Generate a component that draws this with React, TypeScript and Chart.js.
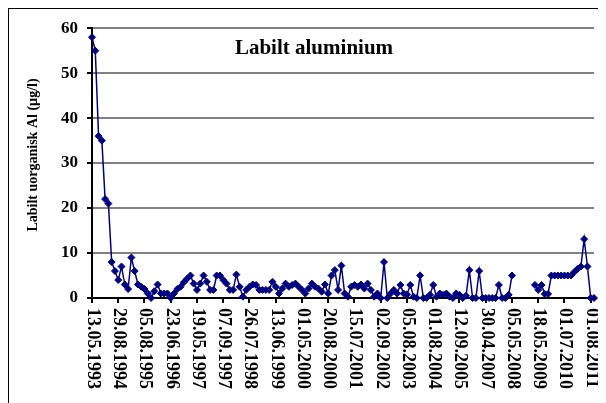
import React, { useEffect, useRef } from "react";
import { Chart, registerables } from "chart.js";

Chart.register(...registerables);

const TITLE = "Labilt aluminium";
const Y_TITLE = "Labilt uorganisk Al (µg/l)";
const LABEL_EVERY = 8;

const tickLabels: string[] = [
  "13.05.1993", "29.08.1994", "05.08.1995", "23.06.1996", "19.05.1997",
  "07.09.1997", "26.07.1998", "13.06.1999", "01.05.2000", "20.08.2000",
  "15.07.2001", "02.09.2002", "05.08.2003", "01.08.2004", "12.09.2005",
  "30.04.2007", "05.05.2008", "18.05.2009", "01.07.2010", "01.08.2011",
];

const values: (number | null)[] = [
  58, 55, 36, 35, 22, 21, 8, 6, 4, 7,
  3, 2, 9, 6, 3, 2.5, 2, 1, 0, 1.5,
  3, 1, 1, 1, 0, 1, 2, 2.5, 3.5, 4.3,
  5, 3.2, 1.8, 3.2, 5, 3.6, 1.8, 1.8, 5, 5,
  4, 3.2, 1.8, 1.8, 5.2, 2.5, 0.3, 1.8, 2.5, 3,
  2.9, 1.8, 1.8, 1.8, 1.8, 3.6, 2.5, 1, 2.1, 3.2,
  2.5, 2.9, 3.2, 2.5, 1.8, 1, 2.1, 3.2, 2.5, 2.1,
  1.4, 3, 1, 5, 6.2, 1.8, 7.2, 1, 0.3, 2.5,
  2.9, 2.5, 3, 2.1, 3.2, 1.8, 0.3, 1, 0, 8,
  0, 1, 1.8, 1, 2.9, 1, 0.8, 2.9, 0.3, 0,
  5, 0, 0, 0.7, 2.9, 0.3, 1, 0.7, 1, 0.3,
  0, 1, 0.7, 0, 0.5, 6.2, 0, 0, 6, 0,
  0, 0, 0, 0, 2.9, 0, 0, 0.7, 5, null,
  null, null, null, null, null, 2.9, 1.8, 2.9, 0.9, 0.9,
  5, 5, 5, 5, 5, 5, 5, 5.8, 6.5, 7,
  13.1, 7, 0, 0,
];

const categories: string[] = values.map((_, i) =>
  i % LABEL_EVERY === 0 && tickLabels[i / LABEL_EVERY] ? tickLabels[i / LABEL_EVERY] : ""
);

const SERIF = '"Liberation Serif", "Times New Roman", serif';
const NAVY = "#000080";

const W = 590;
const H = 394;

const textPlugin = {
  id: "excelText",
  afterDraw(chart: any) {
    const { ctx, chartArea, scales } = chart;
    ctx.save();
    ctx.fillStyle = "#000";
    ctx.font = `bold 21px ${SERIF}`;
    ctx.textAlign = "center";
    ctx.textBaseline = "middle";
    ctx.fillText(TITLE, 305, 40);
    ctx.save();
    ctx.translate(24, 146);
    ctx.rotate(-Math.PI / 2);
    ctx.font = `bold 14px ${SERIF}`;
    ctx.fillText(Y_TITLE, 0, 0);
    ctx.restore();
    ctx.font = `bold 18px ${SERIF}`;
    ctx.textAlign = "left";
    ctx.textBaseline = "middle";
    const xs = scales.x;
    tickLabels.forEach((lab, k) => {
      const idx = k * LABEL_EVERY;
      if (idx >= values.length) return;
      const x = xs.getPixelForValue(idx);
      ctx.save();
      ctx.translate(x + 0.5, chartArea.bottom + 10);
      ctx.rotate(Math.PI / 2);
      ctx.fillText(lab, 0, 0);
      ctx.restore();
    });
    ctx.restore();
  },
};

export default function App() {
  const ref = useRef<HTMLCanvasElement | null>(null);
  useEffect(() => {
    if (!ref.current) return;
    const chart = new Chart(ref.current, {
      type: "line",
      data: {
        labels: categories,
        datasets: [
          {
            data: values,
            borderColor: NAVY,
            backgroundColor: NAVY,
            borderWidth: 1.5,
            pointStyle: "rectRot",
            pointRadius: 3.5,
            pointBorderWidth: 1,
            pointBackgroundColor: NAVY,
            pointBorderColor: NAVY,
            spanGaps: false,
            tension: 0,
            clip: false,
          },
        ],
      },
      options: {
        animation: false,
        responsive: false,
        maintainAspectRatio: false,
        events: [],
        layout: { padding: { top: 16, right: 3, left: 0, bottom: 0 } },
        plugins: {
          legend: { display: false },
          tooltip: { enabled: false },
          title: { display: false },
        },
        scales: {
          x: {
            type: "category",
            offset: false,
            ticks: { display: false, autoSkip: false },
            grid: {
              display: true,
              drawOnChartArea: false,
              drawTicks: true,
              tickLength: 5,
              lineWidth: 2,
              color: (c: any) => (c.index % LABEL_EVERY === 0 ? "#000000" : "rgba(0,0,0,0)"),
              tickColor: (c: any) => (c.index % LABEL_EVERY === 0 ? "#000000" : "rgba(0,0,0,0)"),
            },
            border: { display: true, color: "#000000", width: 2 },
            afterFit: (s: any) => {
              s.height = 105;
            },
          },
          y: {
            min: 0,
            max: 60,
            ticks: {
              stepSize: 10,
              color: "#000",
              padding: 9,
              font: { family: SERIF, size: 17, weight: "bold" },
            },
            grid: {
              display: true,
              drawOnChartArea: true,
              drawTicks: true,
              tickLength: 5,
              lineWidth: 2,
              color: "#808080",
              tickColor: "#000000",
            },
            border: { display: true, color: "#000000", width: 2 },
            afterFit: (s: any) => {
              s.width = 83;
            },
          },
        },
      },
      plugins: [textPlugin],
    } as any);
    return () => chart.destroy();
  }, []);

  return (
    <div
      style={{
        width: W,
        height: H,
        border: "1px solid #000",
        background: "#fff",
      }}
    >
      <canvas ref={ref} width={W} height={H} style={{ width: W, height: H, display: "block" }} />
    </div>
  );
}
